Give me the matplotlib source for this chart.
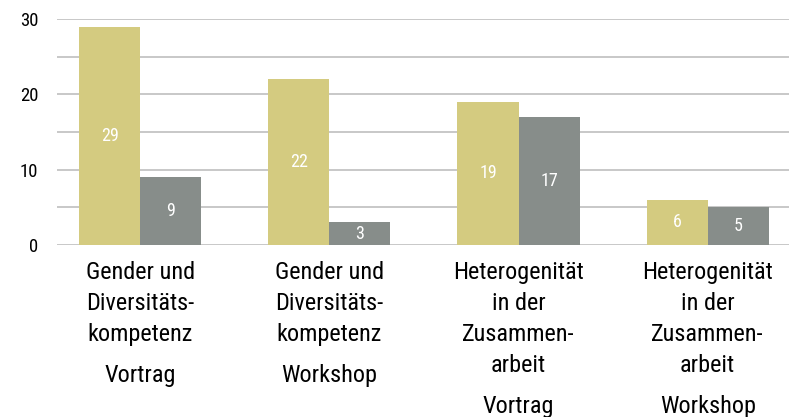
import matplotlib.pyplot as plt
import matplotlib.transforms as mtransforms
import numpy as np

# Teilnehmende je Veranstaltung
themen = [["Gender und", "Diversitäts-", "kompetenz"],
          ["Gender und", "Diversitäts-", "kompetenz"],
          ["Heterogenität", "in der", "Zusammen-", "arbeit"],
          ["Heterogenität", "in der", "Zusammen-", "arbeit"]]
formate = ["Vortrag", "Workshop", "Vortrag", "Workshop"]
serie_a = [29, 22, 19, 6]
serie_b = [9, 3, 17, 5]

gold = "#D4CB80"
grau = "#878D8A"
plt.rcParams['font.family'] = ['Liberation Sans Narrow', 'DejaVu Sans Condensed',
                               'Roboto Condensed', 'DejaVu Sans']
plt.rcParams['font.stretch'] = 'condensed'

fig = plt.figure(figsize=(7.94, 4.17), dpi=100)
ax = fig.add_axes([0.0718, 0.4125, 0.9219, 0.542])

x = np.arange(len(formate))
w = 0.323
ax.bar(x - w / 2, serie_a, w, color=gold, zorder=2)
ax.bar(x + w / 2, serie_b, w, color=grau, zorder=2)

for xi, a, b in zip(x, serie_a, serie_b):
    ax.text(xi - w / 2, a / 2, str(a), ha="center", va="center", color="white", fontsize=13)
    ax.text(xi + w / 2, b / 2, str(b), ha="center", va="center", color="white", fontsize=13)

ax.set_xlim(-0.44, 3.43)
ax.set_ylim(0, 30)
ax.set_yticks([0, 10, 20, 30])
ax.set_yticks(np.arange(0, 31, 5), minor=True)
ax.yaxis.grid(True, which="both", color="#C4C4C4", linewidth=1.3, zorder=0)
ax.set_xticks([])
for s in ax.spines.values():
    s.set_visible(False)
ax.tick_params(axis="y", which="major", length=0, pad=13.5, labelsize=13.5)
ax.tick_params(axis="y", which="minor", length=0)

# Beschriftung unter den Gruppen
trans = mtransforms.blended_transform_factory(ax.transData, fig.transFigure)
for xi, zeilen, fmt in zip(x, themen, formate):
    y = 279
    for z in zeilen:
        ax.text(xi, 1 - y / 417, z, transform=trans, ha="center", va="baseline", fontsize=17.5)
        y += 31
    y += 10
    ax.text(xi, 1 - y / 417, fmt, transform=trans, ha="center", va="baseline", fontsize=17.5)

fig.savefig("out.png", dpi=100)
